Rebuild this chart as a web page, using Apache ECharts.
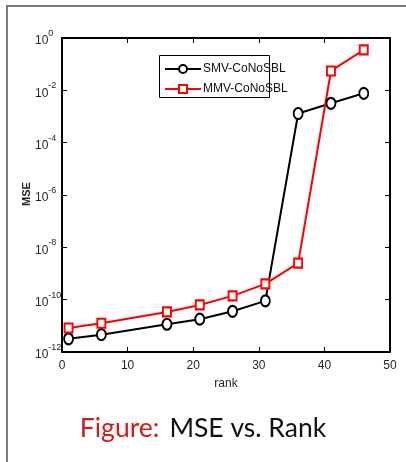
<!DOCTYPE html>
<html>
<head>
<meta charset="utf-8">
<script src="https://cdn.jsdelivr.net/npm/echarts@6/dist/echarts.min.js"></script>
<style>
  html, body { margin: 0; padding: 0; background: #fff; }
  #chart { width: 406px; height: 462px; }
</style>
</head>
<body>
<div id="chart"></div>
<script>
// Rank values at which the MSE was measured
const ranks = [1, 6, 16, 21, 26, 31, 36, 41, 46];
// Mean squared error of the single-measurement-vector solver
const smvMse = [3.2e-12, 4.6e-12, 1.15e-11, 1.8e-11, 3.6e-11, 9e-11, 1.3e-3, 3.2e-3, 7.7e-3];
// Mean squared error of the multiple-measurement-vector solver
const mmvMse = [8.3e-12, 1.25e-11, 3.4e-11, 6.3e-11, 1.4e-10, 4e-10, 2.5e-9, 5.5e-2, 3.5e-1];
const seriesNames = ['SMV-CoNoSBL', 'MMV-CoNoSBL'];

const tickFont = '"Liberation Sans Narrow", "Liberation Sans", Arial, sans-serif';
const tickColor = '#262626';

function pairs(xs, ys) { return xs.map((x, i) => [x, ys[i]]); }

// 10 with the decade exponent as a superscript
function powLabel(v) {
  const e = Math.round(Math.log10(v));
  return '{b|10}{s|' + e + '}';
}

const chart = echarts.init(document.getElementById('chart'), null, { renderer: 'canvas' });

const frameAxisLine = { show: true, onZero: false, lineStyle: { color: '#000', width: 2 } };
const inTick = { show: true, inside: true, length: 5, lineStyle: { color: '#000', width: 1 } };

chart.setOption({
  animation: false,
  backgroundColor: '#fff',
  grid: { left: 62, right: 16, top: 38, bottom: 110, containLabel: false },
  title: {
    text: '{r|Figure:}  {k|MSE vs. Rank}',
    left: 'center',
    top: 410,
    textStyle: {
      fontWeight: 'normal',
      rich: {
        r: { fontFamily: 'Lato, "Open Sans", sans-serif', fontSize: 26.5, fontWeight: 'normal', color: '#d01c1c' },
        k: { fontFamily: 'Lato, "Open Sans", sans-serif', fontSize: 26.5, fontWeight: 'normal', color: '#111' }
      }
    }
  },
  legend: {
    orient: 'vertical',
    left: 164,
    top: 63,
    itemWidth: 36,
    itemHeight: 10,
    itemGap: 8,
    padding: 0,
    data: seriesNames,
    textStyle: { fontFamily: tickFont, fontSize: 12, color: '#111', padding: [0, 0, 0, -3] }
  },
  xAxis: [
    {
      type: 'value', min: 0, max: 50, interval: 10,
      name: 'rank', nameLocation: 'middle', nameGap: 26,
      nameTextStyle: { fontFamily: tickFont, fontSize: 12, color: tickColor },
      axisLine: frameAxisLine, axisTick: inTick,
      axisLabel: { fontFamily: tickFont, fontSize: 12, color: tickColor, margin: 8 },
      splitLine: { show: false }
    },
    {
      type: 'value', min: 0, max: 50, interval: 10, position: 'top',
      axisLine: frameAxisLine, axisTick: inTick,
      axisLabel: { show: false }, splitLine: { show: false }
    }
  ],
  yAxis: [
    {
      type: 'log', logBase: 10, min: 1e-12, max: 1, interval: 2,
      axisLine: frameAxisLine, axisTick: inTick,
      axisLabel: {
        align: 'left', margin: 27,
        formatter: powLabel,
        rich: {
          b: { fontFamily: tickFont, fontSize: 12, color: tickColor, padding: [6, 0, 0, 0] },
          s: { fontFamily: tickFont, fontSize: 9, color: tickColor, verticalAlign: 'top' }
        }
      },
      splitLine: { show: false }
    },
    {
      type: 'log', logBase: 10, min: 1e-12, max: 1, interval: 2, position: 'right',
      axisLine: frameAxisLine, axisTick: inTick,
      axisLabel: { show: false }, splitLine: { show: false }
    }
  ],
  graphic: [
    // slide frame: top and left rules
    { type: 'line', shape: { x1: 6, y1: 6, x2: 406, y2: 6 }, style: { stroke: '#7a7a7a', lineWidth: 2 } },
    { type: 'line', shape: { x1: 7, y1: 5, x2: 7, y2: 462 }, style: { stroke: '#7a7a7a', lineWidth: 2 } },
    // legend box
    { type: 'rect', shape: { x: 159.5, y: 55.5, width: 110, height: 42 }, style: { fill: 'none', stroke: '#000', lineWidth: 1 }, z: 10 },
    // y-axis title
    {
      type: 'text', x: 27, y: 194, rotation: Math.PI / 2,
      style: {
        text: 'MSE', fontFamily: tickFont, fontSize: 11, fontWeight: 'bold', fill: tickColor,
        align: 'center', verticalAlign: 'middle'
      }
    }
  ],
  series: [
    {
      name: seriesNames[0], type: 'line', xAxisIndex: 0, yAxisIndex: 0,
      data: pairs(ranks, smvMse),
      symbol: 'emptyCircle', symbolSize: [9, 11],
      lineStyle: { color: '#000', width: 2 },
      itemStyle: { color: '#000', borderColor: '#000', borderWidth: 2 }
    },
    {
      name: seriesNames[1], type: 'line', xAxisIndex: 0, yAxisIndex: 0,
      data: pairs(ranks, mmvMse),
      symbol: 'emptyRect', symbolSize: [8, 9],
      lineStyle: { color: '#f00', width: 2 },
      itemStyle: { color: '#f00', borderColor: '#f00', borderWidth: 2 }
    }
  ]
});
</script>
</body>
</html>
